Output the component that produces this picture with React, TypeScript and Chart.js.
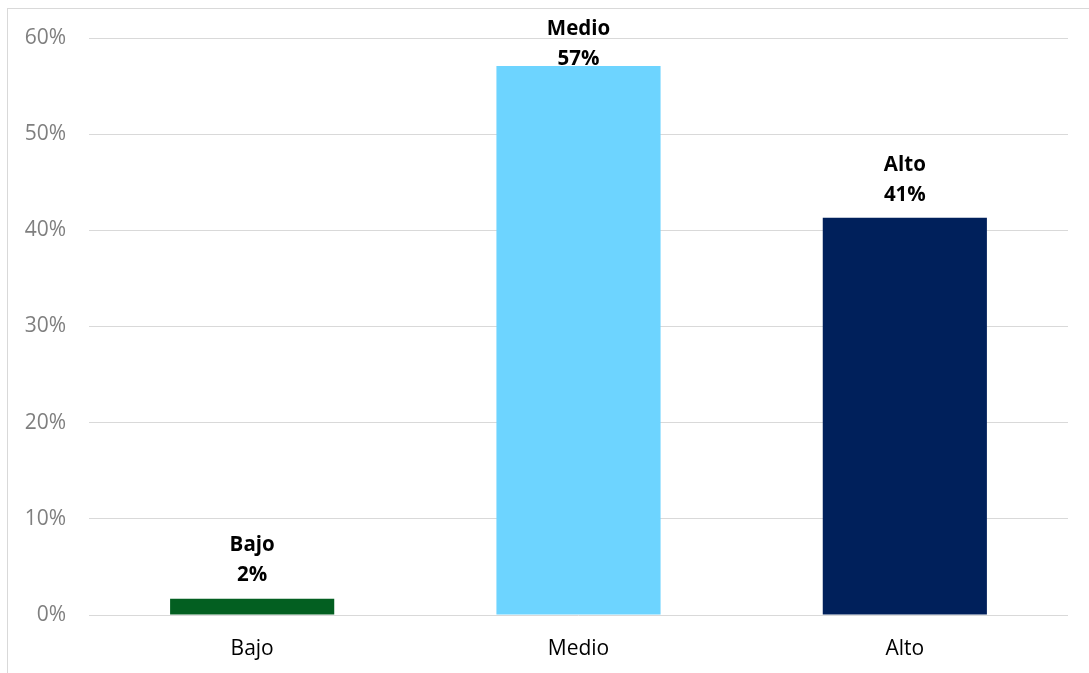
import React, { useEffect, useRef } from "react";
import { Chart, registerables } from "chart.js";

Chart.register(...registerables);

const categories = ["Bajo", "Medio", "Alto"];
const values = [1.7, 57.1, 41.3];
const barColors = ["#035F21", "#6DD4FF", "#00205B"];
const yTicks = [0, 10, 20, 30, 40, 50, 60];

const FONT = "'Open Sans', Lato, sans-serif";

const labelPlugin = {
  id: "barLabels",
  afterDatasetsDraw(chart: any) {
    const ctx = chart.ctx;
    const meta = chart.getDatasetMeta(0);
    ctx.save();
    ctx.font = `bold 20.5px ${FONT}`;
    ctx.fillStyle = "#000000";
    ctx.textAlign = "center";
    ctx.textBaseline = "middle";
    meta.data.forEach((bar: any, i: number) => {
      let topCenter = bar.y - 53;
      if (topCenter < 29) topCenter = 29;
      ctx.fillText(categories[i], bar.x, topCenter);
      ctx.fillText(Math.round(values[i]) + "%", bar.x, topCenter + 30);
    });
    ctx.restore();
  },
};

export default function App() {
  const ref = useRef<HTMLCanvasElement>(null);
  useEffect(() => {
    if (!ref.current) return;
    const chart = new Chart(ref.current, {
      type: "bar",
      data: {
        labels: categories,
        datasets: [
          {
            data: values,
            backgroundColor: barColors,
            categoryPercentage: 1,
            barPercentage: 0.503,
          },
        ],
      },
      options: {
        animation: false,
        responsive: false,
        maintainAspectRatio: false,
        layout: { padding: { left: 0, top: 38, right: 21, bottom: 13 } },
        plugins: { legend: { display: false }, tooltip: { enabled: false } },
        scales: {
          x: {
            grid: { display: false, drawTicks: false },
            border: { display: false },
            ticks: { color: "#000000", font: { family: FONT, size: 21 }, padding: 21 },
            afterFit: (s: any) => {
              s.height = 45;
            },
          },
          y: {
            min: 0,
            max: 60,
            afterBuildTicks: (s: any) => {
              s.ticks = yTicks.map((v) => ({ value: v }));
            },
            grid: { color: "#D9D9D9", lineWidth: 1, drawTicks: false },
            border: { display: false },
            ticks: {
              color: "#7F7F7F",
              font: { family: FONT, size: 21, lineHeight: 1.4 },
              padding: 23,
              callback: (v: any) => v + "%",
            },
            afterFit: (s: any) => {
              s.width = 89;
            },
          },
        },
      },
      plugins: [labelPlugin],
    });
    return () => chart.destroy();
  }, []);
  return (
    <div
      style={{
        position: "fixed",
        left: 0,
        top: 0,
        width: 1089,
        height: 673,
        overflow: "hidden",
        background: "#ffffff",
      }}
    >
      <div
        style={{
          position: "absolute",
          left: 7,
          top: 8,
          width: 1120,
          height: 700,
          border: "1px solid #D9D9D9",
        }}
      />
      <canvas
        ref={ref}
        width={1089}
        height={673}
        style={{ position: "absolute", left: 0, top: 0, width: 1089, height: 673 }}
      />
    </div>
  );
}
